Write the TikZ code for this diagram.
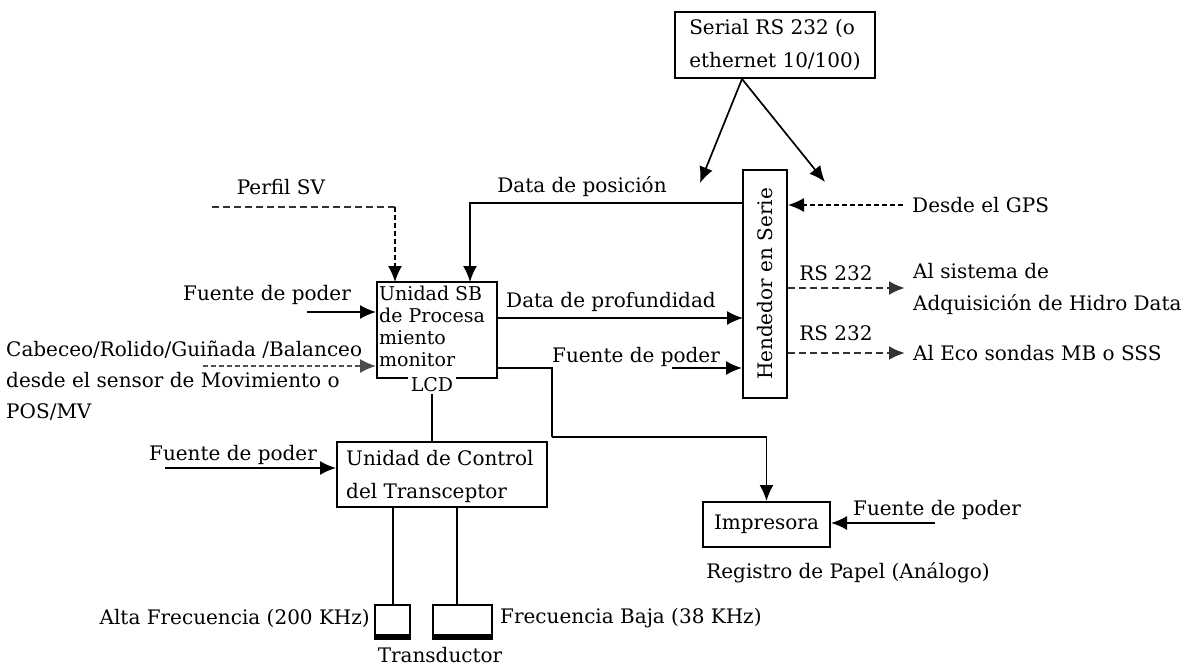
\documentclass[tikz,border=0pt]{standalone}
\usepackage{fontspec}
\setmainfont{DejaVu Serif}
\usetikzlibrary{arrows.meta}
\begin{document}
\begin{tikzpicture}[x=1pt,y=-1pt,
  every node/.style={font=\fontsize{20}{24}\selectfont, inner sep=0pt},
  box/.style={draw, line width=2pt, inner sep=0pt},
  ln/.style={line width=1.7pt},
  tip/.style={-{Latex[length=16pt,width=14pt]}},
  arr/.style={ln, tip},
  dsh/.style={line width=2.4pt, dash pattern=on 7pt off 4pt, black!80},
  thindsh/.style={line width=1.4pt, dash pattern=on 5pt off 3pt},
  boxtext/.style={font=\fontsize{19}{22}\selectfont, align=left}
]
\path[use as bounding box] (0,0) rectangle (1197,666);

% ---------- boxes ----------
\node[box, minimum width=200pt, minimum height=66pt, align=left,
      font=\fontsize{20}{33}\selectfont] (serial) at (775,45) {Serial RS 232 (o\\ethernet 10/100)};
\node[box, minimum width=44pt, minimum height=228pt] (hend) at (765,284) {};
\node[rotate=90] (hendt) at (hend.center) {Hendedor en Serie};
\node[box, minimum width=120pt, minimum height=96pt] (sb) at (437,330) {};
\node[boxtext, anchor=north west] (sbt) at (379,286) {Unidad SB\\de Procesa\\miento\\monitor};
\node[fill=white, inner xsep=3pt, inner ysep=2pt, font=\fontsize{19}{21}\selectfont] (lcd) at (432,385) {LCD};
\node[box, minimum width=210pt, minimum height=65pt] (ctrl) at (442,474.5) {};
\node[anchor=west, align=left, font=\fontsize{20}{33}\selectfont] (ctrlt) at (346,476) {Unidad de Control\\del Transceptor};
\node[box, minimum width=127pt, minimum height=45pt] (imp) at (766.5,524.5) {Impresora};
\node[box, minimum width=35pt, minimum height=30pt] (t1) at (392.5,620) {};
\node[box, minimum width=59pt, minimum height=30pt] (t2) at (462.5,620) {};
\draw[line width=4.5pt] ([yshift=-1.5pt]t1.south west) -- ([yshift=-1.5pt]t1.south east);
\draw[line width=4.5pt] ([yshift=-1.5pt]t2.south west) -- ([yshift=-1.5pt]t2.south east);

% ---------- labels ----------
\node (perfil) at (281,187) {Perfil SV};
\node (dposl) at (582,187) {Data de posición};
\node (fsbl) at (267,295) {Fuente de poder};
\node (dprofl) at (611,302) {Data de profundidad};
\node (fhl) at (636,357) {Fuente de poder};
\node[anchor=west, inner xsep=9pt] (gps) at (903,205) {Desde el GPS};
\node (rs1) at (836,273) {RS 232};
\node (rs2) at (836,333) {RS 232};
\node[anchor=west, align=left, font=\fontsize{20}{32}\selectfont] (al1) at (913,289) {Al sistema de\\Adquisición de Hidro Data};
\node[anchor=west] (al2) at (913,353) {Al Eco sondas MB o SSS};
\node[anchor=west, align=left, font=\fontsize{20}{31}\selectfont] (cab) at (6,381) {Cabeceo/Rolido/Guiñada /Balanceo\\desde el sensor de Movimiento o\\POS/MV};
\node (fctl) at (233,455) {Fuente de poder};
\node (fimpl) at (937,510) {Fuente de poder};
\node (reg) at (848,573) {Registro de Papel (Análogo)};
\node[anchor=east] (alta) at (370,618) {Alta Frecuencia (200 KHz)};
\node[anchor=west] (baja) at (500,618) {Frecuencia Baja (38 KHz)};
\node (trans) at (440,655) {Transductor};

% ---------- coordinates ----------
\coordinate (sa) at (742,79);
\coordinate (h1) at (700,183);
\coordinate (h2) at (825,182);
\coordinate (dp) at (743,203);
\coordinate (sbin) at (470,282);
\coordinate (pf) at (212,207);
\coordinate (pfin) at (395,282);
\coordinate (fs) at (307,312);
\coordinate (cb) at (203,366);
\coordinate (pr) at (743,318);
\coordinate (fh) at (672,368);
\coordinate (so) at (497,368);
\coordinate (sj) at (552,437);
\coordinate (r1) at (905,288);
\coordinate (r2) at (905,353);
\coordinate (fc) at (165,468);
\coordinate (fi) at (935,523);
\coordinate (l1) at (393,507);
\coordinate (l2) at (457,507);

% ---------- connectors ----------
\draw[arr] (sa) -- (h1);
\draw[arr] (sa) -- (h2);
\draw[arr] (dp) -| (sbin);
\draw[thindsh, tip] (gps.west) -- (gps.west -| hend.east);
\draw[dsh] (pf) -- (pf -| pfin);
\draw[thindsh, tip] (pf -| pfin) -- (pfin);
\draw[arr] (fs) -- (fs -| sb.west);
\draw[thindsh, black!70, tip] (cb) -- (cb -| sb.west);
\draw[arr] (pr -| sb.east) -- (pr);
\draw[arr] (fh) -- (fh -| hend.west);
\draw[ln] (so) -| (sj);
\draw[arr] (sj) -| (imp.north);
\draw[dsh, tip] (r1 -| hend.east) -- (r1);
\draw[dsh, tip] (r2 -| hend.east) -- (r2);
\draw[ln] (lcd.south) -- (lcd.south |- ctrl.north);
\draw[arr] (fc) -- (fc -| ctrl.west);
\draw[arr] (fi) -- (fi -| imp.east);
\draw[ln] (l1) -- (l1 |- t1.north);
\draw[ln] (l2) -- (l2 |- t2.north);
\end{tikzpicture}
\end{document}
